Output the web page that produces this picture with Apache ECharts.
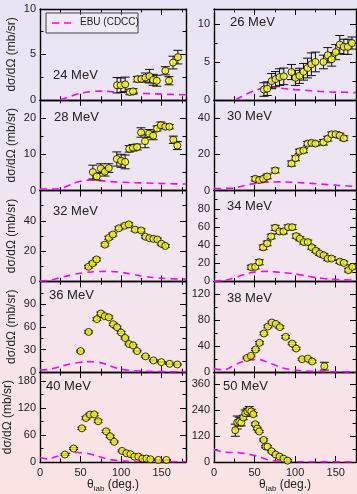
<!DOCTYPE html>
<html><head><meta charset="utf-8">
<script src="https://cdn.jsdelivr.net/npm/echarts@6/dist/echarts.min.js"></script>
<style>html,body{margin:0;padding:0;width:357px;height:494px;overflow:hidden;} #c{width:357px;height:494px;}</style>
</head><body><div id="c"></div><script>
// ---- data ----
const e24_x = [95,99.6,105,110.7,114.7,120,125,130,135,139.5,144,154.5,159,164,170];
const e24_y = [1.6,1.6,1.7,0.86,0.93,2.27,2.3,2.45,2.6,2.2,2.1,3.2,2.1,4.1,4.7];
const e24_err = [0.85,0.8,0.8,0.3,0.3,0.3,0.3,0.5,0.75,0.6,0.6,0.45,0.45,0.7,0.75];
const ebu24_x = [25,35,45,55,65,75,90,110,130,150,170,180];
const ebu24_y = [0,0.3,0.6,0.8,0.92,0.95,0.88,0.78,0.7,0.62,0.57,0.55];

const e26_x = [61.5,65.6,71,75.8,80.7,86,95.5,100.4,105.3,110.3,115.2,120,125,134.9,140.2,145,150,155,160,165,170];
const e26_y = [1.36,1.47,2.47,2.73,3.0,3.1,3.67,2.9,3.17,3.7,4.2,4.7,5.0,5.0,5.9,5.35,6.3,7.3,7.0,7.0,7.5];
const e26_err = [0.9,0.9,1.0,1.0,1.1,1.1,1.0,1.0,1.0,1.1,1.3,1.5,1.3,0.9,1.0,0.9,1.0,1.2,1.0,1.0,0.8];
const ebu26_x = [27,35,45,55,65,75,85,100,120,140,160,175];
const ebu26_y = [0,0.5,1.0,1.4,1.6,1.6,1.5,1.35,1.2,1.05,1.0,0.95];

const e28_x = [65.2,70,75,80,84.8,94.7,100,105,110,114.7,119.7,124.6,129.5,134.5,139.5,144.3,149,154.5,159.5,164.4,169.3];
const e28_y = [5.1,3.9,6.1,5.2,6.2,8.7,8.2,7.9,11.5,11.8,12.0,16.0,13.6,15.7,15.1,17.1,18.0,17.6,17.6,14.0,12.4];
const e28_err = [1.9,1.0,1.3,1.2,1.2,1.95,1.8,1.9,0.9,0.9,0.8,1.3,1.8,1.1,1.1,0.7,0.9,0.6,0.6,1.0,1.1];
const ebu28_x = [0,20,27,35,45,55,65,80,100,130,160,180];
const ebu28_y = [0.4,0.4,0.6,1.4,2.3,2.8,2.9,2.6,2.3,2.1,1.9,1.8];

const e30_x = [50.8,55.7,60.6,65.5,75.4,95.5,100.4,105.3,110.3,115.2,120.1,125,134.9,140.2,145,150,155,160];
const e30_y = [6.5,5.8,6.5,7.8,11.1,14.9,17.8,21.6,22.1,25.9,26.3,25.9,26.6,28.6,31.0,31.0,30.3,28.8];
const e30_err = [1.2,1.2,1.2,1.3,1.3,1.4,1.3,1.2,1.2,1.2,1.2,1.2,1.5,1.3,1.3,1.3,1.3,1.3];
const ebu30_x = [0,20,30,40,50,65,80,100,120,140,160,175];
const ebu30_y = [1.1,1.3,2.0,3.0,4.0,4.6,4.8,4.5,4.0,3.3,2.7,2.3];

const e32_x = [59.8,64.8,69.7,80,84.8,89.8,97.1,104.5,109.4,117.2,124.6,130,134.9,139.8,144.7,149.6,154.5];
const e32_y = [9.7,11.9,14.5,24.3,28.8,31.0,35.1,36.8,37.7,34.2,33.7,29.5,28.6,28.1,27.7,24.9,23.4];
const e32_err = [0.9,0.9,0.9,1.0,1.0,1.0,1.0,1.0,1.0,1.0,1.0,0.9,0.9,0.9,0.9,0.9,0.9];
const ebu32_x = [0,15,25,40,55,70,85,100,115,130,145,160,180];
const ebu32_y = [0.2,1.0,2.5,4.5,5.8,6.5,6.6,6.0,4.6,3.2,2.3,1.8,1.5];

const e34_x = [45.9,50.8,55.7,60.6,65.5,70.5,75.4,80.7,85.7,91.4,96.3,101.2,105.8,110.7,115.6,120.5,125.4,130.3,135.2,140.2,145,155,160,165.6,170.5];
const e34_y = [15.6,16.0,21.1,37.5,41.8,49.5,59.0,55,55,59.7,59.7,49.9,47,43.3,43.3,37.5,33.8,30.6,28.7,25.1,25.1,21.8,20.4,12.4,16.0];
const e34_err = [2.2,2.2,2.8,2.6,2.6,2.6,2.8,2.6,2.6,2.6,2.6,2.3,2.2,2.2,2.2,2.0,2.0,2.0,2.0,2.0,2.0,2.0,2.0,2.0,2.0];
const ebu34_x = [0,15,25,35,45,55,65,75,90,105,120,135,150,175];
const ebu34_y = [0.3,1.5,4,7,9.5,10.8,11,10.5,9.3,7.5,5,3.2,2.2,1.5];

const e36_x = [50,59.9,70.1,75,79.9,84.8,90.2,95,100,104.9,109.8,114.7,119.7,130,139.8,149.6,159.8,169.3];
const e36_y = [27.9,53.2,70.1,77.6,74,72.6,63.4,59.4,52.4,45.2,37.2,35.5,27.9,20.9,15.6,13.3,11.1,10.2];
const e36_err = [1.2,1.5,1.8,1.8,1.8,1.8,1.6,1.5,1.4,1.3,1.2,1.2,1.0,1.0,0.8,0.8,0.8,0.8];
const ebu36_x = [0,10,20,30,40,50,60,70,80,90,100,110,130,150,180];
const ebu36_y = [3,3.5,6,9,11.5,13,14,13.5,11,7,4,2.5,1.2,0.8,0.5];

const e38_x = [40.6,45.5,51.2,56.1,61.5,66.4,71.3,76.2,81.2,88.2,96.3,101.2,108.6,115.6,120.9,136];
const e38_y = [22,25.2,35,45.3,59.7,70.5,76.6,74.5,69.4,54.5,44.2,36.5,20,21,16.5,9.3];
const e38_err = [1.5,1.5,1.8,2,2,2,2,2,2,2,1.8,1.8,1.5,1.5,2,6];
const ebu38_x = [0,8,15,25,35,45,55,65,75,85,95,110,130,175];
const ebu38_y = [5.5,4,4.5,11,16,19,19.5,16,11,6.5,4,2,1,0.5];

const e40_x = [30.7,41.4,51.6,56.6,61.5,66.8,71.7,81.5,86.5,91.4,101.2,106.5,111.5,116.4,121.3,126.2,131.2,136.1,145.9,155.8];
const e40_y = [16.6,30,75,98,105.6,106,90.8,68.3,57,45,24.7,19.5,17.3,12,12,7.6,7.6,6.1,4.6,4.6];
const e40_err = [2,2,2.5,3,3,3,3,2.5,2.5,2,2,1.5,1.5,1.5,1.5,1.2,1.2,1.2,1,1];
const ebu40_x = [0,8,15,25,35,45,55,65,75,85,95,110,140,180];
const ebu40_y = [10,7,9,15,19,21,20,16,11,6,3,1.5,0.8,0.5];

const e50_x = [26.2,28.6,31.1,33.6,36,38.5,41,43.4,45.9,48.3,50.8,53.3,55.7,61.1,63.6,66,71,75.9,80.8,85.7,90.7];
const e50_y = [147,182.5,187,182,205.6,225.6,233.5,241,233.5,221,174.7,154.6,141,102,71.3,71,49.6,34.3,25,15.4,6.2];
const e50_err = [28,30,20,15,10,15,15,15,10,8,6,6,5,5,5,5,4,4,4,4,4];
const ebu50_x = [0,5,10,15,20,25,30,35,40,45,50,55,60,65,70,80,90,100,140,175];
const ebu50_y = [58,52,47,45,44,44,43,41,38,34,30,24,18,12,8,3,1.5,1,0.5,0.3];

const xTicks = [0,50,100,150];
const yTitle = 'dσ/dΩ (mb/sr)';
const legendText = 'EBU (CDCC)';

// ---- panels (layout) ----
const panels = [
  {lab:'24 MeV', x:e24_x, y:e24_y, err:e24_err, ex:ebu24_x, ey:ebu24_y, ymax:10, step:5, col:0, row:0, lx:53, ly:77},
  {lab:'26 MeV', x:e26_x, y:e26_y, err:e26_err, ex:ebu26_x, ey:ebu26_y, ymax:12, step:5, col:1, row:0, lx:230, ly:24},
  {lab:'28 MeV', x:e28_x, y:e28_y, err:e28_err, ex:ebu28_x, ey:ebu28_y, ymax:25, step:10, col:0, row:1, lx:54, ly:119},
  {lab:'30 MeV', x:e30_x, y:e30_y, err:e30_err, ex:ebu30_x, ey:ebu30_y, ymax:50, step:20, col:1, row:1, lx:227, ly:118},
  {lab:'32 MeV', x:e32_x, y:e32_y, err:e32_err, ex:ebu32_x, ey:ebu32_y, ymax:60, step:20, col:0, row:2, lx:53, ly:213},
  {lab:'34 MeV', x:e34_x, y:e34_y, err:e34_err, ex:ebu34_x, ey:ebu34_y, ymax:100, step:20, col:1, row:2, lx:227, ly:208},
  {lab:'36 MeV', x:e36_x, y:e36_y, err:e36_err, ex:ebu36_x, ey:ebu36_y, ymax:120, step:30, col:0, row:3, lx:49, ly:297},
  {lab:'38 MeV', x:e38_x, y:e38_y, err:e38_err, ex:ebu38_x, ey:ebu38_y, ymax:140, step:40, col:1, row:3, lx:227, ly:300},
  {lab:'40 MeV', x:e40_x, y:e40_y, err:e40_err, ex:ebu40_x, ey:ebu40_y, ymax:200, step:60, col:0, row:4, lx:46, ly:388},
  {lab:'50 MeV', x:e50_x, y:e50_y, err:e50_err, ex:ebu50_x, ey:ebu50_y, ymax:415, step:120, col:1, row:4, lx:223, ly:388}
];

const FONT = '"Liberation Sans", Arial, Helvetica, sans-serif';
const ROW_TOP = 9, ROW_H = 90.8;
const grids = [], xAxes = [], yAxes = [], series = [], graphics = [];

function axisCommon() {
  return {
    axisLine: {show:true, onZero:false, lineStyle:{color:'#000', width:1.4}},
    axisTick: {show:true, inside:true, length:6, lineStyle:{color:'#000', width:1}},
    minorTick: {show:true, splitNumber:2, length:3.5, lineStyle:{color:'#000', width:1}},
    splitLine: {show:false}, minorSplitLine:{show:false}
  };
}

panels.forEach((p, i) => {
  const xmax = p.col ? 175 : 180;
  grids.push({left: p.col ? 214 : 40, top: ROW_TOP + p.row*ROW_H, width: p.col ? 142 : 146, height: ROW_H});
  const bottomRow = p.row === 4;
  xAxes.push(Object.assign(axisCommon(), {
    gridIndex:i, type:'value', min:0, max:xmax, interval:50, position:'bottom',
    axisLabel:{show:bottomRow, fontSize:11, color:'#222', margin:5, fontFamily:FONT, showMaxLabel:false,
      formatter: v => xTicks.includes(v) ? String(v) : ''},
    name: bottomRow ? '{t|θ}{s|lab}{t| (deg.)}' : '', nameLocation:'middle', nameGap:15,
    nameTextStyle:{color:'#222', fontFamily:FONT, rich:{t:{fontSize:12, lineHeight:16, color:'#222', fontFamily:FONT}, s:{fontSize:8, verticalAlign:'bottom', color:'#222', fontFamily:FONT}}}
  }));
  xAxes.push(Object.assign(axisCommon(), {
    gridIndex:i, type:'value', min:0, max:xmax, interval:50, position:'top', axisLabel:{show:false}
  }));
  const showMax = p.row === 0 && p.ymax % p.step === 0;
  yAxes.push(Object.assign(axisCommon(), {
    gridIndex:i, type:'value', min:0, max:p.ymax, interval:p.step, position:'left',
    axisLabel:{fontSize:11, color:'#222', margin:4, fontFamily:FONT, showMaxLabel:showMax},
    name: p.col === 0 ? yTitle : '', nameLocation:'middle', nameGap:22,
    nameTextStyle:{fontSize:12, color:'#222', fontFamily:FONT}
  }));
  yAxes.push(Object.assign(axisCommon(), {
    gridIndex:i, type:'value', min:0, max:p.ymax, interval:p.step, position:'right', axisLabel:{show:false}
  }));
  const xi = 2*i, yi = 2*i;
  series.push({
    type:'line', xAxisIndex:xi, yAxisIndex:yi, data:p.ex.map((v,k)=>[v,p.ey[k]]),
    smooth:0.4, symbol:'none', clip:true, z:2,
    lineStyle:{color:'#ff00ff', width:1.6, type:[7,5]}
  });
  series.push({
    type:'custom', xAxisIndex:xi, yAxisIndex:yi, z:3, clip:true,
    data:p.x.map((v,k)=>[v,p.y[k],p.err[k]]), encode:{x:0,y:1},
    renderItem:(params, api) => {
      const x = api.value(0), y = api.value(1), e = api.value(2);
      const a = api.coord([x, y-e]), b = api.coord([x, y+e]);
      const w = 4.5, st = {stroke:'#111', lineWidth:1};
      return {type:'group', children:[
        {type:'line', shape:{x1:a[0],y1:a[1],x2:b[0],y2:b[1]}, style:st},
        {type:'line', shape:{x1:a[0]-w,y1:a[1],x2:a[0]+w,y2:a[1]}, style:st},
        {type:'line', shape:{x1:b[0]-w,y1:b[1],x2:b[0]+w,y2:b[1]}, style:st}
      ]};
    }
  });
  series.push({
    type:'scatter', xAxisIndex:xi, yAxisIndex:yi, z:4, symbolSize:7,
    data:p.x.map((v,k)=>[v,p.y[k]]),
    itemStyle:{color:'#ffff00', borderColor:'#000', borderWidth:1}
  });
  graphics.push({type:'text', left:p.lx, top:p.ly-8, z:10,
    style:{text:p.lab, fontSize:13, fill:'#222', fontFamily:FONT}});
});

// legend box
graphics.push({type:'rect', shape:{x:46, y:13, width:92, height:20}, z:10,
  style:{fill:'rgba(255,255,255,0.25)', stroke:'#444', lineWidth:1}});
graphics.push({type:'line', shape:{x1:52, y1:23, x2:74, y2:23}, z:11,
  style:{stroke:'#ff00ff', lineWidth:1.6, lineDash:[7,5]}});
graphics.push({type:'text', left:80, top:17, z:11,
  style:{text:legendText, fontSize:10, fill:'#222', fontFamily:FONT}});

const chart = echarts.init(document.getElementById('c'), null, {renderer:'canvas'});
chart.setOption({
  animation:false,
  backgroundColor:{type:'linear', x:0, y:0, x2:0, y2:1,
    colorStops:[{offset:0, color:'#e8e4f5'},{offset:0.5, color:'#f1e5f0'},{offset:1, color:'#fbe3e3'}]},
  grid:grids, xAxis:xAxes, yAxis:yAxes, series:series, graphic:graphics
});
</script></body></html>
